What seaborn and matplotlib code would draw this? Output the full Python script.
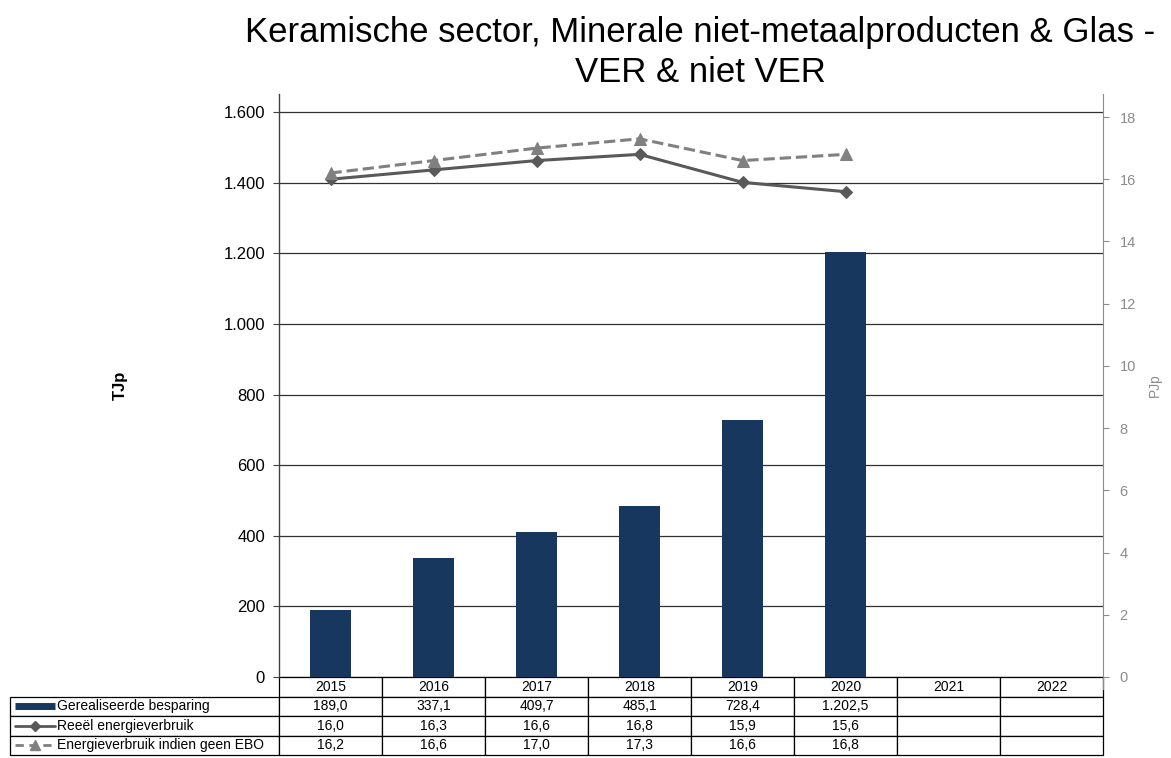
import matplotlib
matplotlib.use("Agg")
import matplotlib.pyplot as plt
import matplotlib.ticker as mticker
from matplotlib.lines import Line2D
import seaborn as sns
import pandas as pd
import numpy as np

sns.set_style("white")
plt.rcParams['font.family'] = ['Liberation Sans', 'DejaVu Sans']
plt.rcParams['text.color'] = 'black'
plt.rcParams['ytick.labelcolor'] = 'black'

# Data
years = ['2015', '2016', '2017', '2018', '2019', '2020', '2021', '2022']
years_obs = ['2015', '2016', '2017', '2018', '2019', '2020']
besparing = [189.0, 337.1, 409.7, 485.1, 728.4, 1202.5]      # TJp
reeel = [16.0, 16.3, 16.6, 16.8, 15.9, 15.6]                 # PJp
geen_ebo = [16.2, 16.6, 17.0, 17.3, 16.6, 16.8]              # PJp
series_names = ['Gerealiseerde besparing', 'Reeël energieverbruik',
                'Energieverbruik indien geen EBO']

BAR_COLOR = '#17375E'
LINE1_COLOR = '#595959'
LINE2_COLOR = '#808080'
AXIS_GRAY = '#8C8C8C'


def nl_fmt(v, dec=0):
    s = f"{v:,.{dec}f}"
    return s.replace(',', '#').replace('.', ',').replace('#', '.')


W, H = 1171, 758
fig = plt.figure(figsize=(W / 100, H / 100), dpi=100)
left, right, top, bottom = 279, 1103, 94, 677
ax = fig.add_axes([left / W, 1 - bottom / H, (right - left) / W, (bottom - top) / H])

df = pd.DataFrame({'jaar': years_obs, 'waarde': besparing})
sns.barplot(data=df, x='jaar', y='waarde', order=years, color=BAR_COLOR,
            width=0.4, saturation=1, linewidth=0, ax=ax, zorder=3)
ax.set_xlim(-0.5, len(years) - 0.5)
ax.set_ylim(0, 1651)
ax.set_yticks(np.arange(0, 1601, 200))
ax.yaxis.set_major_formatter(mticker.FuncFormatter(lambda v, p: nl_fmt(v)))
ax.tick_params(axis='y', labelsize=12, labelcolor='black', length=4, direction='out',
               color='#404040', left=True, pad=6)
ax.set_xticks([])
ax.set_xlabel('')
ax.set_ylabel('')
for yv in np.arange(0, 1601, 200):
    ax.axhline(yv, color='#303030', lw=0.9, zorder=1)
for s in ['top', 'right', 'bottom']:
    ax.spines[s].set_visible(False)
ax.spines['left'].set_color('#404040')
ax.spines['left'].set_linewidth(1.0)

ax2 = ax.twinx()
x_pos = np.arange(len(years_obs))
sns.lineplot(x=x_pos, y=reeel, ax=ax2, color=LINE1_COLOR, lw=2.2, marker='D',
             markersize=6, markeredgecolor=LINE1_COLOR, zorder=4)
sns.lineplot(x=x_pos, y=geen_ebo, ax=ax2, color=LINE2_COLOR, lw=2.2, ls='--',
             marker='^', markersize=8, markeredgecolor=LINE2_COLOR, zorder=4)
ax2.set_ylim(0, 18.74)
ax2.set_yticks(np.arange(0, 19, 2))
ax2.tick_params(axis='y', labelsize=10.5, labelcolor=AXIS_GRAY, color=AXIS_GRAY,
                length=4, direction='out', right=True, pad=8)
ax2.set_ylabel('')
for s in ['top', 'left', 'bottom']:
    ax2.spines[s].set_visible(False)
ax2.spines['right'].set_color(AXIS_GRAY)
ax2.spines['right'].set_bounds(-0.4, 18.74)

# Data table under the chart
rows = [
    [series_names[0]] + [nl_fmt(v, 1) for v in besparing] + [''] * 2,
    [series_names[1]] + [nl_fmt(v, 1) for v in reeel] + [''] * 2,
    [series_names[2]] + [nl_fmt(v, 1) for v in geen_ebo] + [''] * 2,
]
axw = right - left
axh = bottom - top
tab_left, tab_right, tab_bottom = 10, 1103, 755
label_w = left - tab_left
col_w = axw / len(years)
total_w = tab_right - tab_left
tbl = ax.table(cellText=rows, colLabels=[''] + years,
               colWidths=[label_w / total_w] + [col_w / total_w] * len(years),
               cellLoc='center',
               bbox=[(tab_left - left) / axw, -(tab_bottom - bottom) / axh,
                     total_w / axw, (tab_bottom - bottom) / axh])
tbl.auto_set_font_size(False)
tbl.set_fontsize(10)
for (r, c), cell in tbl.get_celld().items():
    cell.set_edgecolor('black')
    cell.set_linewidth(0.9)
    cell.get_text().set_color('black')
    if r == 0 and c == 0:
        cell.visible_edges = ''
    if c == 0 and r > 0:
        cell._loc = 'left'
        cell.get_text().set_ha('left')
        cell.PAD = 47 / label_w

# legend samples in the label column
row_h = (tab_bottom - bottom) / 4
for i in range(3):
    yc = bottom + row_h * (i + 1.5)
    ya = 1 - (yc - top) / axh
    x0 = (15 - left) / axw
    x1 = (55 - left) / axw
    xm = (35 - left) / axw
    if i == 0:
        ax.add_line(Line2D([x0, x1], [ya, ya], transform=ax.transAxes, color=BAR_COLOR,
                           lw=5, solid_capstyle='butt', clip_on=False))
    elif i == 1:
        ax.add_line(Line2D([x0, x1], [ya, ya], transform=ax.transAxes, color=LINE1_COLOR,
                           lw=2, clip_on=False))
        ax.add_line(Line2D([xm], [ya], transform=ax.transAxes, color=LINE1_COLOR,
                           marker='D', markersize=5, clip_on=False))
    else:
        ax.add_line(Line2D([x0, x1], [ya, ya], transform=ax.transAxes, color=LINE2_COLOR,
                           lw=2, ls=(0, (3, 2)), clip_on=False))
        ax.add_line(Line2D([xm], [ya], transform=ax.transAxes, color=LINE2_COLOR,
                           marker='^', markersize=7, clip_on=False))

fig.text(700 / W, 1 - 16 / H,
         'Keramische sector, Minerale niet-metaalproducten & Glas -\nVER & niet VER',
         ha='center', va='top', fontsize=25, linespacing=1.27, color='black')
fig.text(120 / W, 1 - 385 / H, 'TJp', rotation=90, ha='center', va='center',
         fontsize=12, fontweight='bold', color='black')
fig.text(1155 / W, 1 - 385 / H, 'PJp', rotation=90, ha='center', va='center',
         fontsize=10, color=AXIS_GRAY)

fig.savefig('out.png', dpi=100)
